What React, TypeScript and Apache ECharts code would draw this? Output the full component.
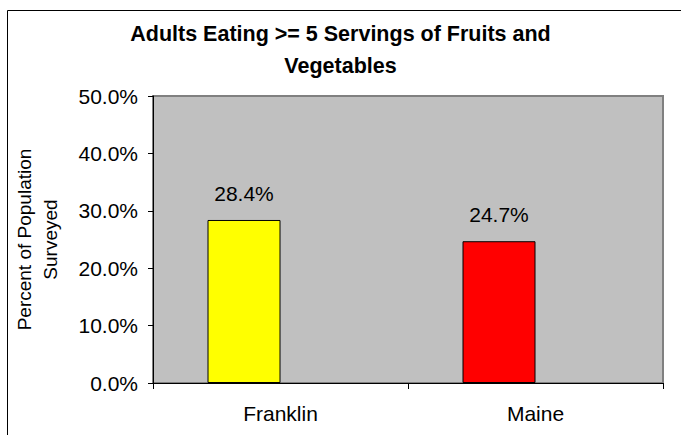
import React, { useEffect, useRef } from "react";
import * as echarts from "echarts";

const categories = ["Franklin", "Maine"];
const values = [28.4, 24.7];
const barColors = ["#FFFF00", "#FF0000"];
const titleText = "Adults Eating >= 5 Servings of Fruits and\nVegetables";
const yAxisTitle = "Percent of Population\nSurveyed";

export default function App() {
  const ref = useRef<HTMLDivElement>(null);
  useEffect(() => {
    if (!ref.current) return;
    const chart = echarts.init(ref.current, null, { renderer: "svg" });
    const font = "Arial, 'Liberation Sans', sans-serif";
    chart.setOption({
      animation: false,
      backgroundColor: "#FFFFFF",
      textStyle: { fontFamily: font },
      title: {
        text: titleText,
        left: "center",
        top: 13,
        textStyle: {
          fontFamily: font,
          fontSize: 21.5,
          fontWeight: "bold",
          color: "#000",
          lineHeight: 32,
        },
      },
      graphic: [
        {
          type: "rect",
          shape: { x: 7.5, y: 10.5, width: 800, height: 600 },
          style: { fill: "none", stroke: "#000", lineWidth: 1 },
          silent: true,
        },
      ],
      grid: {
        left: 153,
        top: 96,
        right: 18,
        bottom: 52,
        outerBoundsMode: "none",
        containLabel: false,
        show: true,
        backgroundColor: "#C0C0C0",
        borderColor: "#808080",
        borderWidth: 2,
      },
      xAxis: {
        type: "category",
        data: categories,
        axisLine: { show: true, lineStyle: { color: "#000", width: 1 } },
        axisTick: { show: true, alignWithLabel: false, length: 6, lineStyle: { color: "#000" } },
        axisLabel: { color: "#000", fontSize: 21, margin: 20, fontFamily: font },
        splitLine: { show: false },
      },
      yAxis: {
        type: "value",
        min: 0,
        max: 50,
        interval: 10,
        name: yAxisTitle,
        nameLocation: "middle",
        nameGap: 90,
        nameRotate: 90,
        nameTextStyle: { color: "#000", fontSize: 19, lineHeight: 26, fontFamily: font },
        axisLine: { show: true, lineStyle: { color: "#000", width: 1 } },
        axisTick: { show: true, length: 5, lineStyle: { color: "#000" } },
        axisLabel: {
          color: "#000",
          fontSize: 21,
          margin: 15,
          fontFamily: font,
          formatter: (v: number) => v.toFixed(1) + "%",
        },
        splitLine: { show: false },
      },
      series: [
        {
          type: "bar",
          barWidth: 73,
          barGap: "0%",
          data: values.map((v, i) => ({
            value: v,
            itemStyle: { color: barColors[i], borderColor: "#000", borderWidth: 1 },
          })),
          label: {
            show: true,
            position: "top",
            distance: 16,
            color: "#000",
            fontSize: 21,
            fontFamily: font,
            formatter: (p: any) => p.value.toFixed(1) + "%",
          },
        },
        {
          type: "bar",
          barWidth: 73,
          barGap: "0%",
          data: categories.map(() => "-"),
        },
      ],
    });
    return () => chart.dispose();
  }, []);
  return (
    <div
      ref={ref}
      style={{ position: "fixed", left: 0, top: 0, width: 681, height: 435 }}
    />
  );
}
